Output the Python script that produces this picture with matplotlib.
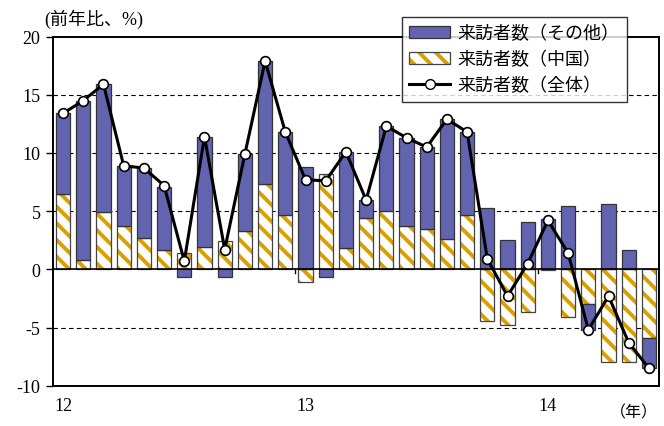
import numpy as np
import matplotlib
matplotlib.use('Agg')
import matplotlib.pyplot as plt
import matplotlib.transforms as mtransforms
from matplotlib.patches import Patch
from matplotlib.lines import Line2D
from matplotlib.legend_handler import HandlerTuple

# monthly data, Jan 2012 - Jun 2014 (前年比, %)
months = np.arange(30)
china = [6.5, 0.8, 4.9, 3.7, 2.7, 1.7, 1.4, 1.9, 2.4, 3.3,
         7.3, 4.7, -1.1, 8.2, 1.8, 4.4, 5.0, 3.7, 3.5, 2.6,
         4.7, -4.4, -4.8, -3.7, -0.1, -4.1, -3.0, -8.0, -8.0, -5.9]
other = [6.9, 13.7, 11.0, 5.2, 6.0, 5.4, -0.7, 9.5, -0.7, 6.6,
         10.6, 7.1, 8.8, -0.7, 8.3, 1.55, 7.3, 7.6, 7.0, 10.3,
         7.1, 5.3, 2.5, 4.1, 4.3, 5.4, -2.2, 5.6, 1.7, -2.6]
total = [13.4, 14.5, 15.9, 8.9, 8.7, 7.2, 0.7, 11.4, 1.7, 9.9,
         17.9, 11.8, 7.7, 7.6, 10.1, 5.95, 12.3, 11.3, 10.5, 12.9,
         11.8, 0.9, -2.3, 0.5, 4.2, 1.4, -5.2, -2.3, -6.3, -8.5]
year_pos = [0, 12, 24]
year_labels = ['12', '13', '14']
labels = ['来訪者数（その他）', '来訪者数（中国）', '来訪者数（全体）']

blue = '#6264B0'
gold = '#D9A000'
serif = ['Liberation Serif', 'Noto Sans CJK JP']
jp = ['Noto Sans CJK JP', 'DejaVu Sans']

plt.rcParams['hatch.linewidth'] = 2.8

fig = plt.figure(figsize=(6.64, 4.27), dpi=100)
ax = fig.add_axes([0.0798, 0.0944, 0.9127, 0.8176])

china = np.array(china)
other = np.array(other)
# other stacks on top of china when same sign, otherwise from zero
bottom = np.where(np.sign(other) == np.sign(china), china, 0)

w = 0.7
ax.bar(months, china, width=w, color='white', edgecolor=gold, hatch='\\\\',
       linewidth=0, zorder=2)
ax.bar(months, china, width=w, fill=False, edgecolor='#444444',
       linewidth=0.9, zorder=3)
ax.bar(months, other, width=w, bottom=bottom, color=blue,
       edgecolor='#333333', linewidth=0.9, zorder=3)
ax.plot(months, total, color='black', linewidth=2.2, marker='o',
        markersize=7, markerfacecolor='white', markeredgecolor='black',
        markeredgewidth=1.2, zorder=5)

ax.set_xlim(-0.5, len(months) - 0.5)
ax.set_ylim(-10, 20)
ax.set_yticks(np.arange(-10, 21, 5))
ax.set_yticklabels([str(v) for v in range(-10, 21, 5)], family=serif, fontsize=13)
ax.set_xticks([])
ax.tick_params(axis='y', direction='out', length=5, width=1, pad=4)

for v in [-5, 5, 10, 15]:
    ax.axhline(v, color='black', linestyle=(0, (4, 3)), linewidth=0.8, zorder=1)
ax.axhline(0, color='black', linewidth=1.2, zorder=4)
for b in [11.5, 23.5]:
    ax.plot([b, b], [0, -0.3], color='black', linewidth=1, zorder=4)

for s in ax.spines.values():
    s.set_linewidth(1.4)

trans = mtransforms.blended_transform_factory(ax.transData, ax.transAxes)
for p, t in zip(year_pos, year_labels):
    ax.text(p, -0.058, t, transform=trans, ha='center', va='center',
            family=serif, fontsize=13)
ax.text(0.959, -0.075, '（年）', transform=ax.transAxes, ha='center', va='center',
        family=jp, fontsize=11.5)
ax.text(-0.014, 1.052, '(前年比、%)', transform=ax.transAxes, ha='left', va='center',
        family=serif, fontsize=13)

china_handle = (Patch(facecolor='white', edgecolor=gold, hatch='\\\\', linewidth=0),
                Patch(fill=False, edgecolor='#444444', linewidth=0.9))
handles = [Patch(facecolor=blue, edgecolor='#333333', linewidth=0.9),
           china_handle,
           Line2D([], [], color='black', linewidth=2.2, marker='o', markersize=7,
                  markerfacecolor='white', markeredgecolor='black')]
leg = ax.legend(handles, labels, loc='upper right', bbox_to_anchor=(0.947, 1.056),
                borderaxespad=0, prop={'family': jp, 'size': 13},
                frameon=True, fancybox=False, edgecolor='black',
                handlelength=2.3, handleheight=0.6, labelspacing=0.45,
                handletextpad=0.4, borderpad=0.4,
                handler_map={tuple: HandlerTuple(ndivide=1, pad=0)})
leg.get_frame().set_linewidth(1.0)
leg.set_zorder(10)

fig.savefig('out.png', dpi=100)
